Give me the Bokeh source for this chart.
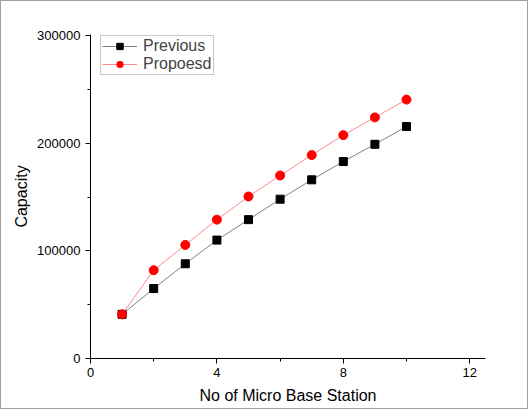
from bokeh.plotting import figure
from bokeh.models import Range1d, FixedTicker, Legend, LegendItem
from bokeh.embed import file_html
from bokeh.resources import INLINE

stations = [1, 2, 3, 4, 5, 6, 7, 8, 9, 10]
previous = [41000, 65000, 88000, 110000, 129000, 148000, 166000, 183000, 199000, 215500]
proposed = [41000, 82000, 105500, 129000, 150500, 170000, 189000, 207500, 224000, 240500]
x_ticks = [0, 4, 8, 12]
x_minor = [2, 6, 10]
y_ticks = [0, 100000, 200000, 300000]
y_minor = [50000, 150000, 250000]

FONT = "Liberation Sans"

p = figure(width=528, height=409, output_backend="svg", toolbar_location=None,
           x_range=Range1d(0, 12.5), y_range=Range1d(0, 301000),
           min_border_left=89, min_border_right=44, min_border_top=33, min_border_bottom=52,
           styles={"border": "1px solid #a0a0a0"})
p.outline_line_color = None
p.xgrid.visible = False
p.ygrid.visible = False

for ax in (p.xaxis[0], p.yaxis[0]):
    ax.axis_line_color = "black"
    ax.axis_line_width = 1
    ax.major_tick_line_color = "black"
    ax.minor_tick_line_color = "black"
    ax.major_tick_out = 5
    ax.major_tick_in = 0
    ax.minor_tick_out = 3
    ax.minor_tick_in = 0
    ax.major_label_text_font = FONT
    ax.major_label_text_font_size = "13px"
    ax.major_label_text_color = "black"
    ax.axis_label_text_font = FONT
    ax.axis_label_text_font_size = "16px"
    ax.axis_label_text_font_style = "normal"
    ax.axis_label_text_color = "black"

p.xaxis[0].ticker = FixedTicker(ticks=x_ticks, minor_ticks=x_minor)
p.yaxis[0].ticker = FixedTicker(ticks=y_ticks, minor_ticks=y_minor)
p.xaxis[0].axis_label = "No of Micro Base Station"
p.yaxis[0].axis_label = "Capacity"
p.yaxis[0].formatter.use_scientific = False
p.xaxis[0].major_label_standoff = 4
p.yaxis[0].major_label_standoff = 5
p.xaxis[0].axis_label_standoff = 7
p.yaxis[0].axis_label_standoff = 4

l1 = p.line(stations, previous, line_color="#808080", line_width=1)
m1 = p.scatter(stations, previous, marker="square", size=8, fill_color="black", line_color="black")
l2 = p.line(stations, proposed, line_color="#ff8a8a", line_width=1)
m2 = p.scatter(stations, proposed, marker="circle", size=9, fill_color="#ff0000", line_color="#ff0000")

legend = Legend(items=[LegendItem(label="Previous", renderers=[l1, m1]),
                       LegendItem(label="Propoesd", renderers=[l2, m2])],
                location=(10, 283), margin=0, padding=1, spacing=0,
                glyph_width=35, glyph_height=16, label_height=16, label_standoff=6,
                label_text_font=FONT, label_text_font_size="16px",
                border_line_color="#909090", border_line_width=1,
                background_fill_color="white", background_fill_alpha=1)
p.add_layout(legend)

open("out.html", "w").write(file_html(p, INLINE))
